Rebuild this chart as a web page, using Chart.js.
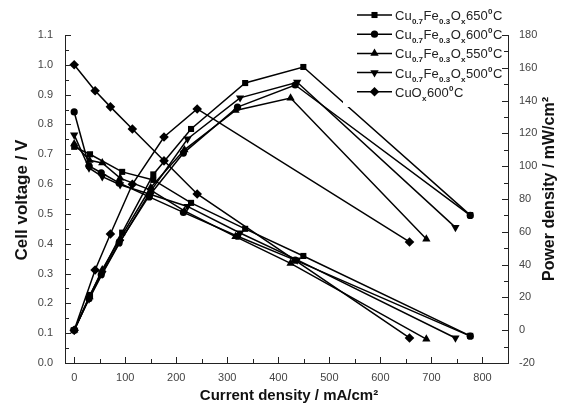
<!DOCTYPE html>
<html>
<head>
<meta charset="utf-8">
<script src="https://cdn.jsdelivr.net/npm/chart.js@4.4.0/dist/chart.umd.min.js"></script>
<style>
html, body { margin: 0; padding: 0; background: #fff; }
#wrap { width: 564px; height: 411px; }
</style>
</head>
<body>
<div id="wrap"><canvas id="myChart" width="564" height="411"></canvas></div>
<script>
// legend names, _{..} = subscript, ^{..} = superscript
const seriesNames = [
    'Cu_{0.7}Fe_{0.3}O_{x}650^{0}C',
    'Cu_{0.7}Fe_{0.3}O_{x}600^{0}C',
    'Cu_{0.7}Fe_{0.3}O_{x}550^{0}C',
    'Cu_{0.7}Fe_{0.3}O_{x}500^{0}C',
    'CuO_{x}600^{0}C'
];

// current density (mA/cm2), cell voltage (V), power density (mW/cm2)
const current650 = [0, 31, 94, 155, 229, 335, 449, 776];
const voltage650 = [0.725, 0.70, 0.641, 0.614, 0.537, 0.45, 0.359, 0.091];
const power650   = [0, 21.5, 59.5, 95, 122.7, 150.7, 160.5, 70.2];

const current600 = [0, 29, 53, 88, 147, 214, 320, 433, 776];
const voltage600 = [0.842, 0.661, 0.638, 0.604, 0.557, 0.505, 0.425, 0.345, 0.09];
const power600   = [0, 19.2, 33.8, 53.2, 82, 108, 136, 149.5, 70];

const current550 = [0, 30, 55, 90, 150, 216, 316, 424, 690];
const voltage550 = [0.735, 0.68, 0.671, 0.62, 0.58, 0.51, 0.424, 0.334, 0.08];
const power550   = [0, 20.4, 36.9, 55.8, 87, 110, 134, 141.6, 55.6];

const current500 = [0, 29, 55, 90, 150, 222, 325, 437, 747];
const voltage500 = [0.765, 0.654, 0.625, 0.598, 0.565, 0.525, 0.436, 0.346, 0.084];
const power500   = [0, 19, 34.4, 53.8, 84.8, 116.6, 141.7, 151.2, 62.7];

const currentCuO = [0, 41, 71, 114, 176, 241, 657];
const voltageCuO = [1.0, 0.913, 0.859, 0.785, 0.678, 0.567, 0.084];
const powerCuO   = [0, 36.7, 58.7, 89, 117.8, 134.9, 53.8];

const xTicks = [0, 100, 200, 300, 400, 500, 600, 700, 800];
const yTicks = [0, 0.1, 0.2, 0.3, 0.4, 0.5, 0.6, 0.7, 0.8, 0.9, 1.0, 1.1];
const y1Ticks = [-20, 0, 20, 40, 60, 80, 100, 120, 140, 160, 180];

const currents = [current650, current600, current550, current500, currentCuO];
const voltages = [voltage650, voltage600, voltage550, voltage500, voltageCuO];
const powers = [power650, power600, power550, power500, powerCuO];

const markers = [
    { style: 'rect', radius: 4.3, rot: 0 },
    { style: 'circle', radius: 3.6, rot: 0 },
    { style: 'triangle', radius: 4.8, rot: 0 },
    { style: 'triangle', radius: 4.8, rot: 180 },
    { style: 'rectRot', radius: 4.8, rot: 0 }
];

const FONT = '"Liberation Sans", Arial, sans-serif';

const datasets = [];
seriesNames.forEach((name, i) => {
    const common = {
        borderColor: '#000',
        backgroundColor: '#000',
        borderWidth: 1.5,
        pointStyle: markers[i].style,
        pointRadius: markers[i].radius,
        pointRotation: markers[i].rot,
        pointBorderWidth: 0,
        tension: 0,
        fill: false
    };
    datasets.push(Object.assign({
        label: name,
        data: currents[i].map((c, k) => ({ x: c, y: voltages[i][k] })),
        yAxisID: 'y'
    }, common));
    datasets.push(Object.assign({
        label: name + ' power',
        data: currents[i].map((c, k) => ({ x: c, y: powers[i][k] })),
        yAxisID: 'y1'
    }, common));
});

function drawMarker(ctx, m, x, y) {
    const r = m.radius;
    ctx.beginPath();
    if (m.style === 'rect') {
        const s = r * Math.SQRT1_2;
        ctx.rect(x - s, y - s, 2 * s, 2 * s);
    } else if (m.style === 'circle') {
        ctx.arc(x, y, r, 0, Math.PI * 2);
    } else if (m.style === 'rectRot') {
        ctx.moveTo(x, y - r); ctx.lineTo(x + r, y); ctx.lineTo(x, y + r); ctx.lineTo(x - r, y);
    } else {
        let a = m.rot * Math.PI / 180;
        for (let k = 0; k < 3; k++) {
            const px = x + Math.sin(a) * r, py = y - Math.cos(a) * r;
            k ? ctx.lineTo(px, py) : ctx.moveTo(px, py);
            a += Math.PI * 2 / 3;
        }
    }
    ctx.closePath();
    ctx.fill();
}

function drawRich(ctx, text, x, y) {
    const parts = text.match(/_\{[^}]*\}|\^\{[^}]*\}|[^_^]+/g);
    parts.forEach(p => {
        let t = p, dy = 0, size = 13;
        if (p[0] === '_') { t = p.slice(2, -1); dy = 4; size = 8; }
        else if (p[0] === '^') { t = p.slice(2, -1); dy = -6; size = 8; }
        ctx.font = (size < 13 ? 'bold ' : '') + size + 'px ' + FONT;
        ctx.fillText(t, x, y + dy);
        x += ctx.measureText(t).width + (size < 13 ? 0.5 : 0.3);
    });
}

const customDraw = {
    id: 'customDraw',
    afterDatasetsDraw(chart) {
        const ctx = chart.ctx;
        // legend box
        ctx.save();
        ctx.fillStyle = '#fff';
        ctx.fillRect(343, 0, 157, 107);
        ctx.fillStyle = '#000';
        ctx.strokeStyle = '#000';
        ctx.lineWidth = 1.5;
        ctx.textBaseline = 'alphabetic';
        ctx.textAlign = 'left';
        seriesNames.forEach((name, i) => {
            const y = 15 + i * 19.2;
            ctx.beginPath();
            ctx.moveTo(357, y); ctx.lineTo(392, y);
            ctx.stroke();
            drawMarker(ctx, markers[i], 374.5, y);
            ctx.fillStyle = '#222';
            drawRich(ctx, name, 395, y + 5);
            ctx.fillStyle = '#000';
        });
        ctx.restore();
    },
    afterDraw(chart) {
        const ctx = chart.ctx;
        const { x, y, y1 } = chart.scales;
        const a = chart.chartArea;
        ctx.save();
        ctx.strokeStyle = '#222';
        ctx.lineWidth = 1;
        ctx.beginPath();
        for (let v = 0; v <= 850; v += 50) {
            const px = Math.round(x.getPixelForValue(v)) + 0.5;
            const len = v % 100 === 0 ? 6 : 4;
            ctx.moveTo(px, a.bottom); ctx.lineTo(px, a.bottom - len);
        }
        for (let k = 0; k <= 22; k++) {
            const py = Math.round(y.getPixelForValue(k * 0.05)) + 0.5;
            const len = k % 2 === 0 ? 6 : 4;
            ctx.moveTo(a.left, py); ctx.lineTo(a.left + len, py);
        }
        for (let v = -20; v <= 180; v += 10) {
            const py = Math.round(y1.getPixelForValue(v)) + 0.5;
            const len = v % 20 === 0 ? 6 : 4;
            ctx.moveTo(a.right, py); ctx.lineTo(a.right - len, py);
        }
        ctx.stroke();

        // axis titles
        ctx.fillStyle = '#111';
        ctx.textAlign = 'center';
        ctx.textBaseline = 'middle';
        ctx.save();
        ctx.font = 'bold 17px ' + FONT;
        ctx.translate(22, 200);
        ctx.rotate(-Math.PI / 2);
        ctx.fillText('Cell voltage / V', 0, 0);
        ctx.restore();
        ctx.save();
        ctx.font = 'bold 16px ' + FONT;
        ctx.translate(550, 189);
        ctx.rotate(-Math.PI / 2);
        ctx.fillText('Power density / mW/cm²', 0, 0);
        ctx.restore();
        ctx.font = 'bold 15px ' + FONT;
        ctx.fillText('Current density / mA/cm²', 289, 396);
        ctx.restore();
    }
};

const ctx = document.getElementById('myChart');

new Chart(ctx, {
    type: 'line',
    data: { datasets: datasets },
    options: {
        responsive: false,
        devicePixelRatio: 1,
        animation: false,
        layout: { padding: { top: 35, left: 0, right: 0, bottom: 0 } },
        plugins: {
            legend: { display: false },
            tooltip: { enabled: false }
        },
        scales: {
            x: {
                type: 'linear',
                position: 'bottom',
                min: -18,
                max: 850,
                afterBuildTicks: s => { s.ticks = xTicks.map(v => ({ value: v })); },
                afterFit: s => { s.height = 48; },
                grid: { display: false, drawTicks: false },
                border: { display: true, color: '#222', width: 1 },
                ticks: { padding: 8, color: '#444', font: { family: FONT, size: 11 }, maxRotation: 0 }
            },
            y: {
                type: 'linear',
                position: 'left',
                min: 0,
                max: 1.1,
                afterBuildTicks: s => { s.ticks = yTicks.map(v => ({ value: v })); },
                afterFit: s => { s.width = 65; },
                grid: { display: false, drawTicks: false },
                border: { display: true, color: '#222', width: 1 },
                ticks: {
                    padding: 12, color: '#444', font: { family: FONT, size: 11 },
                    callback: v => v.toFixed(1)
                }
            },
            y1: {
                type: 'linear',
                position: 'right',
                min: -20,
                max: 180,
                afterBuildTicks: s => { s.ticks = y1Ticks.map(v => ({ value: v })); },
                afterFit: s => { s.width = 56; },
                grid: { display: false, drawTicks: false },
                border: { display: true, color: '#222', width: 1 },
                ticks: { padding: 11, color: '#444', font: { family: FONT, size: 11 } }
            }
        }
    },
    plugins: [customDraw]
});
</script>
</body>
</html>
